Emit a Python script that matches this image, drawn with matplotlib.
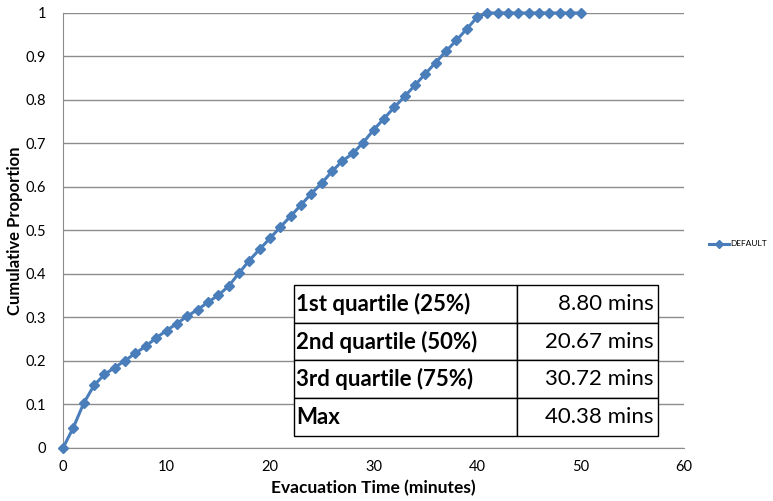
import matplotlib
matplotlib.use("Agg")
import matplotlib.pyplot as plt

minutes = list(range(0, 51))
proportion = [
    0.0, 0.047, 0.103, 0.144, 0.169, 0.185, 0.201, 0.218, 0.234, 0.253,
    0.270, 0.286, 0.303, 0.318, 0.335, 0.351, 0.372, 0.402, 0.431, 0.457,
    0.482, 0.508, 0.533, 0.559, 0.585, 0.609, 0.636, 0.660, 0.677, 0.702,
    0.731, 0.757, 0.783, 0.808, 0.834, 0.860, 0.886, 0.912, 0.937, 0.963,
    0.990, 1.0, 1.0, 1.0, 1.0, 1.0, 1.0, 1.0, 1.0, 1.0, 1.0,
]
series_name = "DEFAULT"

stat_labels = ["1st quartile (25%)", "2nd quartile (50%)", "3rd quartile (75%)", "Max"]
stat_values = ["8.80 mins", "20.67 mins", "30.72 mins", "40.38 mins"]

x_ticks = [0, 10, 20, 30, 40, 50, 60]
y_ticks = [0, 0.1, 0.2, 0.3, 0.4, 0.5, 0.6, 0.7, 0.8, 0.9, 1]
y_tick_labels = ["0", "0.1", "0.2", "0.3", "0.4", "0.5", "0.6", "0.7", "0.8", "0.9", "1"]

plt.rcParams['font.family'] = ['Lato', 'DejaVu Sans']

fig = plt.figure(figsize=(7.73, 5.01), dpi=100)
ax = fig.add_axes([0.0815, 0.1058, 0.8034, 0.8683])

line_color = "#4A7EBB"
ax.plot(minutes, proportion, color=line_color, lw=2.2, marker="D", ms=5,
        label=series_name, clip_on=False, zorder=3)

ax.set_xlim(0, 60)
ax.set_ylim(0, 1)
ax.set_xticks(x_ticks)
ax.set_yticks(y_ticks)
ax.set_yticklabels(y_tick_labels)
ax.tick_params(axis="both", labelsize=10.5, length=0, pad=9)
ax.tick_params(axis="y", pad=12)
ax.grid(axis="y", color="#8c8c8c", lw=1)
ax.set_axisbelow(True)
for s in ["top", "right"]:
    ax.spines[s].set_visible(False)
ax.spines["left"].set_color("#8c8c8c")
ax.spines["bottom"].set_color("#8c8c8c")

ax.set_xlabel("Evacuation Time (minutes)", fontsize=12.5, fontweight="bold", labelpad=4)
ax.set_ylabel("Cumulative Proportion", fontsize=12, fontweight="bold", labelpad=2)

# summary table
cells = [[a, b] for a, b in zip(stat_labels, stat_values)]
tbl = ax.table(cellText=cells, colWidths=[0.613, 0.387],
               bbox=[0.372, 0.0276, 0.586, 0.3474], zorder=5)
tbl.auto_set_font_size(False)
for (r, c), cell in tbl.get_celld().items():
    cell.set_edgecolor("black")
    cell.set_linewidth(1)
    cell.set_facecolor("white")
    txt = cell.get_text()
    txt.set_fontsize(16)
    if c == 0:
        txt.set_fontweight("bold")
        cell.set_text_props(ha="left")
        cell.PAD = 0.01
    else:
        cell.set_text_props(ha="right")
        cell.PAD = 0.03

fig.legend(loc="center left", bbox_to_anchor=(0.91, 0.513), frameon=False,
           fontsize=6, handlelength=2.4, handletextpad=0.15, borderpad=0.2,
           markerscale=0.9)

fig.savefig("out.png", dpi=100)
